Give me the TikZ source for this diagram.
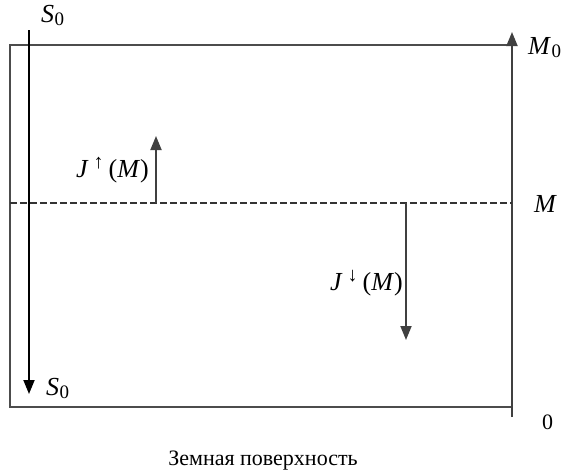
\documentclass[tikz,border=0pt]{standalone}
\usepackage{fontspec}
\setmainfont{Liberation Serif}
\usetikzlibrary{arrows.meta}
\newcommand{\zsub}{\kern0.5pt\raisebox{-3pt}{\fontsize{19}{20}\selectfont 0}}
\newcommand{\upar}{\raisebox{9pt}{\fontsize{20}{21}\selectfont ↑}}
\newcommand{\dnar}{\raisebox{9pt}{\fontsize{20}{21}\selectfont ↓}}
\begin{document}
\begin{tikzpicture}[x=1pt,y=-1pt,
  frame/.style={draw=black!70,line width=1.6pt},
  flow/.style={draw=black!75,line width=1.8pt,-{Triangle[length=14pt,width=11pt]}},
  lbl/.style={inner sep=0pt,font=\fontsize{22}{25}\selectfont},
  mlbl/.style={inner sep=0pt,font=\fontsize{26}{30}\selectfont}]
\useasboundingbox (0,0) rectangle (565,472);
\coordinate (tl) at (10,45);
\coordinate (bl) at (10,407);
\coordinate (tr) at (512,45);
\coordinate (br) at (512,407);
\coordinate (axb) at (512,417);
\coordinate (axt) at (512,32);
\coordinate (st) at (29,30);
\coordinate (sb) at (29,394);
\coordinate (dl) at (10,203);
\coordinate (dr) at (512,203);
\coordinate (ju0) at (156,203);
\coordinate (ju1) at (156,136);
\coordinate (jd0) at (406,203);
\coordinate (jd1) at (406,340);
\draw[frame] (tr) -- (tl) -- (bl) -- (br);
\draw[flow] (axb) -- (axt);
\draw[flow,draw=black] (st) -- (sb);
\draw[draw=black!80,line width=1.2pt,dash pattern=on 7pt off 3pt] (dl) -- (dr);
\draw[flow] (ju0) -- (ju1);
\draw[flow] (jd0) -- (jd1);
\node[mlbl,anchor=base west] (s0t) at (41,22) {\textit{S}\zsub};
\node[mlbl,anchor=base west] (s0b) at (46,395) {\textit{S}\zsub};
\node[mlbl,anchor=base west] (m0) at (528,54) {\textit{M}\zsub};
\node[mlbl,anchor=base west] (m) at (534,212) {\textit{M}};
\node[lbl,anchor=base west] (z) at (542,429) {0};
\node[mlbl,anchor=base east] (jup) at (149,177) {\textit{J}\kern5pt\upar\kern5pt(\textit{M})};
\node[mlbl,anchor=base east] (jdn) at (403,290) {\textit{J}\kern5pt\dnar\kern5pt(\textit{M})};
\node[lbl,anchor=base] (earth) at (263,465) {Земная поверхность};
\end{tikzpicture}
\end{document}
